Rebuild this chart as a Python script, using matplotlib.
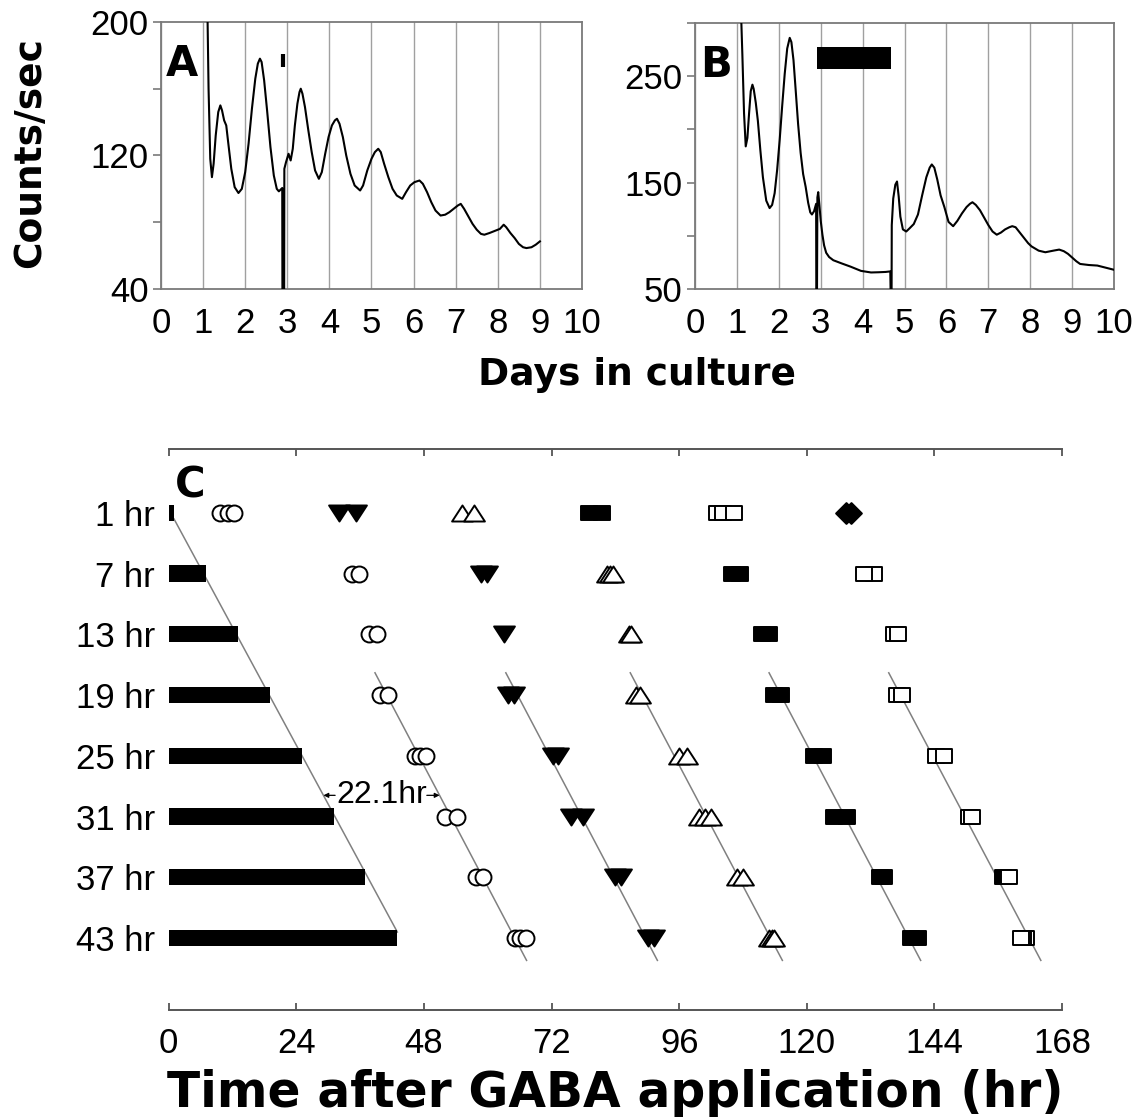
import numpy as np
import matplotlib.pyplot as plt
from matplotlib.path import Path

plt.rcParams['font.family'] = ['Liberation Sans', 'DejaVu Sans']

# ---- A: 1 hr GABA pulse on day ~2.9 ----
days_a = [1.09, 1.13, 1.17, 1.21, 1.25, 1.30, 1.36, 1.41, 1.45, 1.50, 1.55, 1.60,
          1.67, 1.75, 1.84, 1.92, 2.00, 2.08, 2.16, 2.24, 2.30, 2.35, 2.39, 2.45,
          2.52, 2.60, 2.68, 2.75, 2.80, 2.88, 2.885, 2.925, 2.93, 2.97, 3.03, 3.08,
          3.13, 3.18, 3.24, 3.29, 3.32, 3.36, 3.42, 3.50, 3.58, 3.66, 3.75, 3.82,
          3.90, 3.98, 4.06, 4.13, 4.18, 4.24, 4.32, 4.40, 4.50, 4.60, 4.73, 4.80,
          4.90, 5.00, 5.08, 5.16, 5.22, 5.30, 5.40, 5.50, 5.60, 5.73, 5.82, 5.92,
          6.02, 6.14, 6.22, 6.32, 6.42, 6.52, 6.64, 6.75, 6.85, 6.95, 7.05, 7.12,
          7.20, 7.30, 7.40, 7.50, 7.60, 7.68, 7.80, 7.95, 8.05, 8.14, 8.20, 8.30,
          8.40, 8.50, 8.60, 8.68, 8.80, 8.90, 9.00]
counts_a = [230, 160, 118, 107, 115, 132, 146, 150, 147, 141, 138, 127,
            112, 101, 97.5, 100, 110, 127, 148, 166, 175, 178, 176, 165,
            147, 125, 108, 100, 98.5, 100.5, 30, 30, 112, 116, 121, 117,
            124, 138, 151, 158, 160, 157, 149, 135, 122, 111, 106, 110,
            121, 131, 138, 141, 142, 139, 131, 120, 109, 102, 99, 102,
            111, 118, 122, 124, 122, 115, 107, 100, 96, 94, 98, 102,
            104, 105, 103, 98, 92, 87, 84, 84.5, 86, 88, 90, 91,
            88, 83.5, 79, 75.5, 73, 72.5, 73.5, 75, 76, 78.5, 77, 73.5,
            70.5, 67, 65, 64.5, 65, 66.5, 68.5]
pulse_a = [2.9, 173, 181]          # day, bottom, top of the pulse mark

# ---- B: 43 hr GABA application from day 2.9 ----
days_b = [1.09, 1.13, 1.17, 1.21, 1.25, 1.29, 1.33, 1.37, 1.40, 1.45, 1.50, 1.56,
          1.62, 1.70, 1.78, 1.84, 1.90, 1.96, 2.02, 2.08, 2.14, 2.20, 2.26, 2.30,
          2.35, 2.40, 2.46, 2.52, 2.58, 2.64, 2.70, 2.75, 2.79, 2.84, 2.89, 2.895,
          2.91, 2.92, 2.94, 2.97, 3.00, 3.04, 3.08, 3.13, 3.20, 3.30, 3.50, 3.71,
          3.96, 4.20, 4.38, 4.55, 4.66, 4.67, 4.69, 4.695, 4.73, 4.78, 4.82, 4.86,
          4.90, 4.96, 5.04, 5.12, 5.22, 5.32, 5.42, 5.52, 5.60, 5.65, 5.71, 5.78,
          5.86, 5.95, 6.05, 6.16, 6.26, 6.37, 6.48, 6.56, 6.62, 6.70, 6.80, 6.90,
          7.00, 7.10, 7.20, 7.30, 7.40, 7.50, 7.57, 7.65, 7.75, 7.85, 7.95, 8.03,
          8.20, 8.36, 8.55, 8.69, 8.80, 8.90, 9.00, 9.10, 9.19, 9.40, 9.60, 9.80,
          10.0]
counts_b = [320, 270, 215, 184, 192, 215, 236, 242, 238, 225, 208, 180,
            155, 133, 126, 129, 140, 162, 190, 222, 252, 276, 286, 282,
            265, 238, 205, 178, 158, 146, 131, 122, 120, 123, 130, 40,
            40, 136, 141, 128, 114, 101, 91, 84, 80, 77, 74, 71,
            67, 65.5, 65.7, 66, 66.5, 40, 40, 110, 135, 148, 151, 137,
            118, 106, 104, 107, 111, 120, 138, 155, 164, 167, 164, 153,
            138, 127, 113, 109, 114, 121, 127, 130, 131.5, 129, 124, 117,
            110, 104, 101, 103, 106, 108, 109, 108, 103, 98, 93, 90,
            86, 84.5, 86, 87, 85.5, 83, 79.5, 76, 73.5, 72.5, 72, 70,
            68]
pulse_b = [2.9, 4.67, 257, 277.5]  # start, end, bottom, top of the bar

# ---- C: peak times after GABA application (hr) ----
durations = [1, 7, 13, 19, 25, 31, 37, 43]
peak_circle = [[9.6, 11.1, 12.3], [34.4, 35.8], [37.6, 39.1], [39.7, 41.3],
               [46.3, 47.2, 48.3], [52.0, 54.2], [57.8, 59.2], [65.1, 66.0, 67.1]]
peak_tri_down = [[32.0, 35.2], [58.7, 59.8], [63.1], [63.9, 65.0],
                 [72.3, 73.3], [75.7, 78.0], [83.9, 85.0], [90.1, 91.2]]
peak_tri_up = [[55.2, 57.4], [82.5, 82.9, 83.5], [86.5, 86.9], [87.8, 88.7],
               [95.9, 97.4], [99.7, 100.8, 102.0], [106.9, 108.0], [112.9, 113.5, 113.9]]
peak_sq_filled = [[79.1, 81.4], [105.9, 107.4], [111.5, 112.9], [113.9, 115.1],
                  [121.4, 123.1], [125.2, 127.6], [133.8, 134.5, 156.8], [139.6, 140.9]]
peak_sq_open = [[103.1, 104.2, 106.3], [132.6, 130.8], [136.3, 137.2], [137.0, 137.9],
                [144.2, 145.7], [150.4, 151.0], [158.0], [161.2, 160.7, 160.2]]
peak_diamond = [[127.3, 128.3], [], [], [], [], [], [], []]

# regression lines through the peaks: x at the first and last row value
fit_rows = [16.8, 45.2]
fit_start = [38.8, 63.4, 86.8, 112.9, 135.4]
fit_end = [67.3, 91.9, 115.4, 141.4, 164.0]
bar_fit_rows = [1.6, 42.4]
bar_fit_x = [1.0, 43.0]
period_row = 28.9
period_label = '22.1hr'

fig = plt.figure(figsize=(11.45, 11.2), dpi=100)

spine_grey = '#7a7a7a'


def trace_panel(rect, days, counts, ylim, yticks, ylabels, letter):
    ax = fig.add_axes(rect)
    ax.plot(days, counts, color='k', lw=1.5, zorder=3)
    ax.set_xlim(0, 10)
    ax.set_ylim(*ylim)
    ax.set_xticks(range(11))
    ax.set_yticks(yticks)
    ax.set_yticklabels(ylabels)
    ax.grid(axis='x', color='#a0a0a0', lw=1.0)
    ax.tick_params(axis='x', length=0, pad=13, labelsize=25)
    ax.tick_params(axis='y', length=6, width=1.2, color=spine_grey, pad=3, labelsize=25)
    for s in ax.spines.values():
        s.set_color(spine_grey)
        s.set_linewidth(1.3)
    ax.text(0.012, 0.92, letter, transform=ax.transAxes, fontsize=30,
            fontweight='bold', family='DejaVu Sans', va='top', ha='left', zorder=5)
    return ax


ax_a = trace_panel([0.1406, 0.742, 0.3677, 0.2384], days_a, counts_a, (40, 200),
                   [40, 80, 120, 160, 200], ['40', '', '120', '', '200'], 'A')
ax_a.plot([pulse_a[0], pulse_a[0]], pulse_a[1:], color='k', lw=3, solid_capstyle='butt')

ax_b = trace_panel([0.607, 0.742, 0.366, 0.2375], days_b, counts_b, (50, 300),
                   [50, 100, 150, 200, 250, 300], ['50', '', '150', '', '250', ''], 'B')
ax_b.fill_between(pulse_b[:2], pulse_b[2], pulse_b[3], color='k', lw=0, zorder=4)

fig.text(30 / 1145, 1 - 153 / 1120, 'Counts/sec', rotation=90, fontsize=27,
         fontweight='bold', family='DejaVu Sans', ha='center', va='center')
fig.text(637 / 1145, 1 - 375 / 1120, 'Days in culture', fontsize=27,
         fontweight='bold', family='DejaVu Sans', ha='center', va='center')

# ---- panel C ----
ax_c = fig.add_axes([0.1473, 0.0982, 0.7803, 0.5009])
ax_c.set_xlim(0, 168)
ax_c.set_ylim(50.1, -5.3)
ax_c.spines['left'].set_visible(False)
ax_c.spines['right'].set_visible(False)
for s in ('top', 'bottom'):
    ax_c.spines[s].set_color('#555555')
    ax_c.spines[s].set_linewidth(1.4)
ax_c.set_xticks(range(0, 169, 24))
ax_c.tick_params(axis='x', direction='in', length=5, width=1.3, color='#555555',
                 top=True, labelsize=25, pad=12)
ax_c.set_yticks(durations)
ax_c.set_yticklabels([f'{d} hr' for d in durations])
ax_c.tick_params(axis='y', length=0, pad=10, labelsize=25)

ax_c.barh(durations, durations, height=1.6, left=0, color='k', zorder=2)

line_grey = '#808080'
ax_c.plot(bar_fit_x, bar_fit_rows, color=line_grey, lw=1.1, zorder=1)
for x0, x1 in zip(fit_start, fit_end):
    ax_c.plot([x0, x1], fit_rows, color=line_grey, lw=1.1, zorder=1)


def closed(verts):
    return Path(verts + [verts[0]], closed=True)


tri_down = closed([(-1.3, 1), (1.3, 1), (0, -1)])
tri_up = closed([(-1.3, -1), (1.3, -1), (0, 1)])
rect = closed([(-1.15, -1), (1.15, -1), (1.15, 1), (-1.15, 1)])
diamond = closed([(0, 1), (1, 0), (0, -1), (-1, 0)])

series = [
    (peak_circle, 'o', 11.5, 'white'),
    (peak_tri_down, tri_down, 15, 'black'),
    (peak_tri_up, tri_up, 15, 'white'),
    (peak_sq_filled, rect, 12, 'black'),
    (peak_sq_open, rect, 12, 'white'),
    (peak_diamond, diamond, 15, 'black'),
]
for peaks, marker, size, face in series:
    for row, xs in zip(durations, peaks):
        if xs:
            ax_c.plot(xs, [row] * len(xs), ls='none', marker=marker, ms=size,
                      mfc=face, mec='black', mew=1.4, zorder=3)

# free-running period between GABA offset and the first peak
left = np.interp(period_row, bar_fit_rows, bar_fit_x)
right = np.interp(period_row, fit_rows, [fit_start[0], fit_end[0]])
ax_c.text((left + right) / 2, period_row, period_label, fontsize=23,
          ha='center', va='center', zorder=4)
arrow = dict(arrowstyle='-|>', lw=0.9, color='k', mutation_scale=7, shrinkA=0, shrinkB=0)
ax_c.annotate('', xy=(left, period_row), xytext=(left + 2.2, period_row), arrowprops=arrow)
ax_c.annotate('', xy=(right, period_row), xytext=(right - 2.4, period_row), arrowprops=arrow)

ax_c.text(0.007, 0.973, 'C', transform=ax_c.transAxes, fontsize=30,
          fontweight='bold', family='DejaVu Sans', va='top', ha='left')

fig.text(615 / 1145, 1 - 1093 / 1120, 'Time after GABA application (hr)', fontsize=35,
         fontweight='bold', family='DejaVu Sans', ha='center', va='center')

fig.savefig('out.png', dpi=100)
